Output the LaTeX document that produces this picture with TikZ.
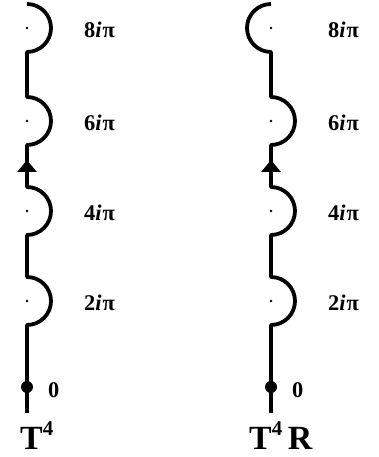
\documentclass[tikz,border=0pt]{standalone}
\usepackage{fontspec}
\setmainfont{Liberation Serif}
\usetikzlibrary{arrows.meta}
\usetikzlibrary{positioning}
\usetikzlibrary{calc}

\newcommand{\supfour}{\raisebox{0.42em}{\fontsize{21}{21}\selectfont 4}}

\tikzset{
	loop line/.style={line width=3.8bp, line join=round},
	lbl/.style={inner sep=0pt, font=\fontsize{22.5}{22.5}\selectfont\bfseries},
	end lbl/.style={inner sep=0pt, font=\fontsize{34}{34}\selectfont\bfseries, anchor=base west},
	up tip/.style={-{Triangle[width=19bp,length=12bp]}, line width=3.8bp},
}

\begin{document}
\begin{tikzpicture}[x=1bp, y=1bp]
	\useasboundingbox (0,0) rectangle (378,457);

	% the two columns: a = T^4 (left), b = T^4 R (right)
	\foreach \c/\x in {a/27,b/271} {
		\coordinate (\c0) at (\x,44);
		\coordinate (\c z) at (\x,70);
		\coordinate (\c tip) at (\x,297);
		\foreach \k/\y in {2/156,4/246,6/336,8/429} {
			\coordinate (\c\k) at (\x,\y);
			\coordinate (\c\k b) at (\x,{\y-24});
			\coordinate (\c\k t) at (\x,{\y+24});
		}
	}

	% left: every loop bulges to the right
	\draw[loop line] (a0) -- (a2b) arc[start angle=-90, end angle=90, radius=24]
		-- (a4b) arc[start angle=-90, end angle=90, radius=24]
		-- (a6b) arc[start angle=-90, end angle=90, radius=24]
		-- (a8b) arc[start angle=-90, end angle=90, radius=24];
	\draw[up tip] (a4t) -- (atip);

	% right: the top loop bulges to the left
	\draw[loop line] (b0) -- (b2b) arc[start angle=-90, end angle=90, radius=24]
		-- (b4b) arc[start angle=-90, end angle=90, radius=24]
		-- (b6b) arc[start angle=-90, end angle=90, radius=24]
		-- (b8b) arc[start angle=-90, end angle=-270, radius=24];
	\draw[up tip] (b4t) -- (btip);

	\foreach \c in {a,b} {
		\fill (\c z) circle[radius=6bp];
		\node[lbl, right=21bp of \c z, yshift=-3bp] (\c zl) {0};
		\foreach \k in {2,4,6,8} {
			\fill (\c\k) circle[radius=1.4bp];
			\node[lbl, right=57bp of \c\k, yshift=-2bp] (\c\k l) {\k\textit{i}\kern1bp π};
		}
	}

	\node[end lbl] (aname) at (20,7) {T\supfour};
	\node[end lbl] (bname) at (249,7) {T\supfour\,R};
\end{tikzpicture}
\end{document}
